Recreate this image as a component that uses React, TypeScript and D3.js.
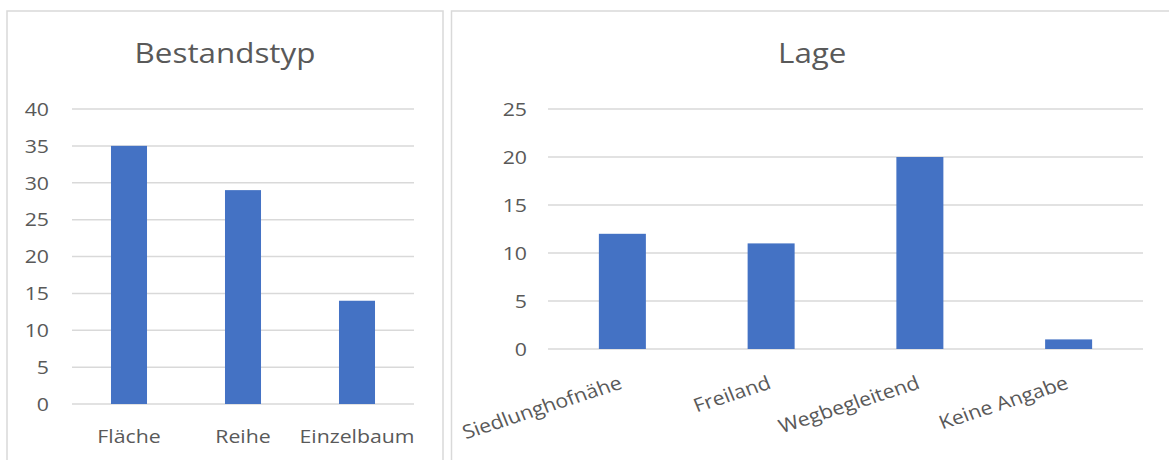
import React from "react";
import * as d3 from "d3";

const bestandCategories = ["Fläche", "Reihe", "Einzelbaum"];
const bestandValues = [35, 29, 14];
const bestandTicks = [0, 5, 10, 15, 20, 25, 30, 35, 40];

const lageCategories = ["Siedlunghofnähe", "Freiland", "Wegbegleitend", "Keine Angabe"];
const lageValues = [12, 11, 20, 1];
const lageTicks = [0, 5, 10, 15, 20, 25];

const BAR = "#4472C4";
const GRID = "#D9D9D9";
const TEXT = "#595959";
const FONT = "'Open Sans', 'Segoe UI', sans-serif";
const SX = 1.12;

function App() {
  // left chart
  const lx = d3.scaleBand<string>().domain(bestandCategories).range([72, 414]).paddingInner(0.684).paddingOuter(0.342);
  const ly = d3.scaleLinear().domain([0, 40]).range([404, 109]);
  // right chart
  const rx = d3.scaleBand<string>().domain(lageCategories).range([548, 1143]).paddingInner(0.684).paddingOuter(0.342);
  const ry = d3.scaleLinear().domain([0, 25]).range([349, 109]);

  return (
    <svg width={1169} height={460} style={{ position: "absolute", left: 0, top: 0, background: "#fff" }} fontFamily={FONT}>
      <rect x={0} y={0} width={1169} height={460} fill="#fff" />
      {/* chart borders */}
      <path d="M7,470 V11 H443 V470" fill="none" stroke={GRID} strokeWidth={1.5} />
      <path d="M451.5,470 V11 H1175" fill="none" stroke={GRID} strokeWidth={1.5} />

      {/* Left chart */}
      <g transform={`translate(${(7 + 443) / 2},63) scale(${SX},1)`}>
        <text textAnchor="middle" fontSize={28} fill={TEXT}>Bestandstyp</text>
      </g>
      {bestandTicks.map((t) => (
        <g key={"lg" + t}>
          <line x1={72} x2={414} y1={ly(t)} y2={ly(t)} stroke={GRID} strokeWidth={1.5} />
          <g transform={`translate(49,${ly(t)}) scale(${SX},1)`}>
            <text textAnchor="end" dy="0.36em" fontSize={19} fill={TEXT}>{t}</text>
          </g>
        </g>
      ))}
      {bestandCategories.map((c, i) => (
        <rect key={"lb" + c} x={lx(c)} width={lx.bandwidth()} y={ly(bestandValues[i])} height={ly(0) - ly(bestandValues[i])} fill={BAR} />
      ))}
      {bestandCategories.map((c) => (
        <g key={"ll" + c} transform={`translate(${(lx(c) as number) + lx.bandwidth() / 2},443) scale(${SX},1)`}>
          <text textAnchor="middle" fontSize={19} fill={TEXT}>{c}</text>
        </g>
      ))}

      {/* Right chart */}
      <g transform={`translate(${(451.5 + 1169) / 2 + 2},63) scale(${SX},1)`}>
        <text textAnchor="middle" fontSize={28} fill={TEXT}>Lage</text>
      </g>
      {lageTicks.map((t) => (
        <g key={"rg" + t}>
          <line x1={548} x2={1143} y1={ry(t)} y2={ry(t)} stroke={GRID} strokeWidth={1.5} />
          <g transform={`translate(527,${ry(t)}) scale(${SX},1)`}>
            <text textAnchor="end" dy="0.36em" fontSize={19} fill={TEXT}>{t}</text>
          </g>
        </g>
      ))}
      {lageCategories.map((c, i) => (
        <rect key={"rb" + c} x={rx(c)} width={rx.bandwidth()} y={ry(lageValues[i])} height={ry(0) - ry(lageValues[i])} fill={BAR} />
      ))}
      {lageCategories.map((c) => (
        <g key={"rl" + c} transform={`translate(${(rx(c) as number) + rx.bandwidth() / 2 + 1},388) scale(${SX},1) rotate(-20)`}>
          <text textAnchor="end" fontSize={19} fill={TEXT}>{c}</text>
        </g>
      ))}
    </svg>
  );
}

export default App;
